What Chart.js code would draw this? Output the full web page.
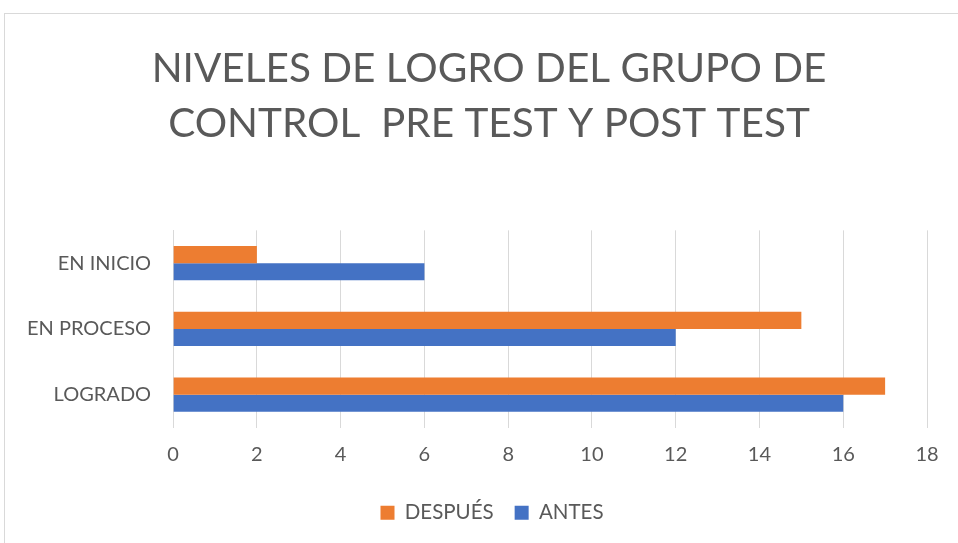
<!DOCTYPE html>
<html>
<head>
<meta charset="utf-8">
<script src="https://cdn.jsdelivr.net/npm/chart.js@4/dist/chart.umd.min.js"></script>
<style>
  html, body { margin: 0; padding: 0; background: #fff; }
  #frame {
    position: absolute; left: 4px; top: 13px;
    width: 970px; height: 545px;
    border: 1px solid #d9d9d9;
  }
  #wrap { position: absolute; left: 0; top: 0; width: 958px; height: 543px; }
</style>
</head>
<body>
<div id="frame"></div>
<div id="wrap"><canvas id="myChart" width="958" height="543"></canvas></div>
<script>
const categories = ["EN INICIO", "EN PROCESO", "LOGRADO"];
const despues = [2, 15, 17];
const antes = [6, 12, 16];
const titleLines = ["NIVELES DE LOGRO DEL GRUPO DE", "CONTROL  PRE TEST Y POST TEST"];

const gray = '#595959';
const fontName = 'Lato, "Open Sans", sans-serif';

// title and legend sit a bit right of the canvas centre in the original
const shiftBlocks = {
    id: 'shiftBlocks',
    afterLayout(chart) {
        chart.titleBlock.left += 23;
        chart.titleBlock.right += 23;
        chart.legend.left += 26;
        chart.legend.right += 26;
    }
};

let ctx = document.getElementById("myChart").getContext('2d');
let myChart = new Chart(ctx, {
    type: 'bar',
    data: {
        labels: categories,
        datasets: [{
            label: 'DESPUÉS',
            data: despues,
            backgroundColor: '#ED7D31',
            borderWidth: 0
        }, {
            label: 'ANTES',
            data: antes,
            backgroundColor: '#4472C4',
            borderWidth: 0
        }]
    },
    options: {
        indexAxis: 'y',
        responsive: false,
        animation: false,
        categoryPercentage: 0.52,
        barPercentage: 1.0,
        layout: {
            padding: { left: 5, right: 31, top: 32, bottom: 10 }
        },
        scales: {
            x: {
                min: 0,
                max: 18,
                ticks: {
                    stepSize: 2,
                    color: gray,
                    font: { family: fontName, size: 20 },
                    padding: 15
                },
                grid: { color: '#d9d9d9', lineWidth: 1, drawTicks: false },
                border: { display: false }
            },
            y: {
                ticks: {
                    color: gray,
                    font: { family: fontName, size: 20 },
                    padding: 22
                },
                grid: { display: false, drawTicks: false },
                border: { display: true, color: '#d9d9d9' }
            }
        },
        plugins: {
            title: {
                display: true,
                text: titleLines,
                color: gray,
                font: { family: fontName, size: 40.5, weight: 'normal', lineHeight: 1.35 },
                padding: { top: 10, bottom: 79 }
            },
            legend: {
                display: true,
                position: 'bottom',
                labels: {
                    color: gray,
                    font: { family: fontName, size: 20.5 },
                    boxWidth: 14,
                    boxHeight: 14,
                    padding: 21
                }
            },
            tooltip: { enabled: false }
        }
    },
    plugins: [shiftBlocks]
});
</script>
</body>
</html>
